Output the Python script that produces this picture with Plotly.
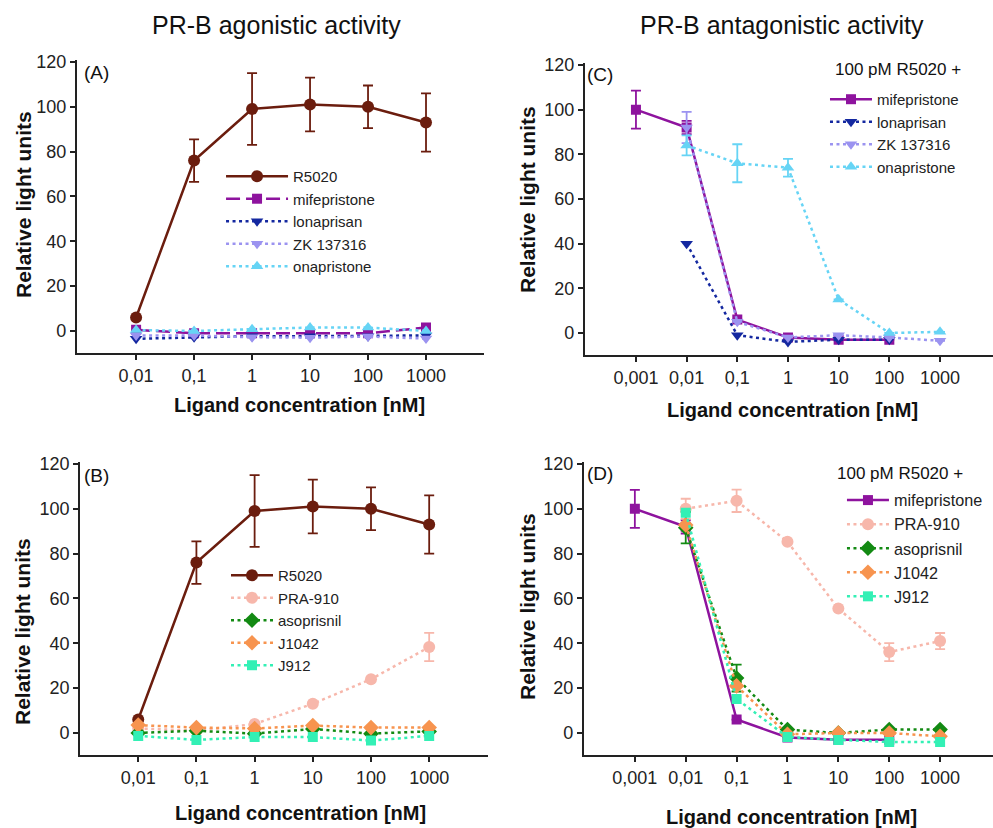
import plotly.graph_objects as go

# ---------------- data ----------------
conc_ag = [0.01, 0.1, 1, 10, 100, 1000]
conc_ant = [0.001, 0.01, 0.1, 1, 10, 100, 1000]
ticks_ag = [0.01, 0.1, 1, 10, 100, 1000]
ticklabels_ag = ["0,01", "0,1", "1", "10", "100", "1000"]
ticks_ant = [0.001, 0.01, 0.1, 1, 10, 100, 1000]
ticklabels_ant = ["0,001", "0,01", "0,1", "1", "10", "100", "1000"]
y_ticks = [0, 20, 40, 60, 80, 100, 120]

# Panel A (agonistic)
A_r5020 = [6, 76, 99, 101, 100, 93]
A_r5020_err = [None, 9.5, 16, 12, 9.5, 13]
A_mife = [0.5, -1, -1, -1, -1, 1.5]
A_lona = [-3.5, -2.8, -2.3, -2.3, -2.3, -2]
A_zk = [-2, -2, -2.8, -3, -2.5, -3.4]
A_ona = [0.4, 0, 0.8, 1.5, 1.5, 0]

# Panel B (agonistic)
B_r5020 = [6, 76, 99, 101, 100, 93]
B_r5020_err = [None, 9.5, 16, 12, 9.5, 13]
B_pra = [2, 1, 4, 13, 24, 38.3]
B_pra_err = [None, None, None, None, None, 6.3]
B_aso = [0, 1, -0.3, 1.8, -0.3, 0.7]
B_j1042 = [3.5, 2.4, 2, 3.3, 2.4, 2.4]
B_j912 = [-1.3, -3.1, -1.8, -1.8, -3.4, -1.3]

# Panel C (antagonistic, 100 pM R5020 +)
C_mife = [100, 92, 6, -2, -3, -3, None]
C_mife_err = [8.5, 3, None, None, None, None, None]
C_lona = [None, 40, -1, -4, -3, -3, None]
C_zk = [None, 92, 5, -2, -1, -2, -3.5]
C_zk_err = [None, 7, None, None, None, None, None]
C_ona = [None, 84, 76, 74, 15, 0, 0.5]
C_ona_err = [None, 4.5, 8.5, 4, None, None, None]

# Panel D (antagonistic, 100 pM R5020 +)
D_mife = [100, 92, 6, -2, -3, -3, None]
D_mife_err = [8.5, 3, None, None, None, None, None]
D_pra = [None, 100, 103.6, 85.3, 55.5, 36.1, 41]
D_pra_err = [None, 4.5, 5, None, None, 4, 3.6]
D_aso = [None, 91.6, 24.5, 1.5, 0, 1.5, 1.5]
D_aso_err = [None, 7, 6, None, None, None, None]
D_j1042 = [None, 92.8, 21, -0.6, 0, 0, -1.5]
D_j912 = [None, 98.3, 15.2, -1.8, -3.1, -4, -4]

# ---------------- styles ----------------
C_R5020 = "#6B1D0E"
C_MIFE = "#8E139E"
C_LONA = "#1428A0"
C_ZK = "#9B93F0"
C_ONA = "#66D4F5"
C_PRA = "#F7B7AB"
C_ASO = "#138A13"
C_J1042 = "#F7944F"
C_J912 = "#33F0B5"

FONT = "Liberation Sans, Arial, sans-serif"
AX = "#222222"

fig = go.Figure()


def add(x, y, name, color, symbol, size, dash, width, xa, ya, legend, err=None):
    kw = {}
    if err is not None:
        kw["error_y"] = dict(type="data", array=err, symmetric=True, color=color,
                             thickness=1.8, width=5, visible=True)
    fig.add_trace(go.Scatter(
        x=x, y=y, name=name, mode="lines+markers",
        line=dict(color=color, width=width, dash=dash),
        marker=dict(color=color, symbol=symbol, size=size, line=dict(width=0)),
        xaxis=xa, yaxis=ya, legend=legend, **kw))


SOLID = "solid"
DOT = "3px,3.5px"
DASH = "14px,6px"

# Panel A
add(conc_ag, A_r5020, "R5020", C_R5020, "circle", 12, SOLID, 2.5, "x", "y", "legend", A_r5020_err)
add(conc_ag, A_mife, "mifepristone", C_MIFE, "square", 10, DASH, 2.5, "x", "y", "legend")
add(conc_ag, A_lona, "lonaprisan", C_LONA, "triangle-down", 11, DOT, 2.5, "x", "y", "legend")
add(conc_ag, A_zk, "ZK 137316", C_ZK, "triangle-down", 11, DOT, 2.5, "x", "y", "legend")
add(conc_ag, A_ona, "onapristone", C_ONA, "triangle-up", 11, DOT, 2.5, "x", "y", "legend")

# Panel B
add(conc_ag, B_r5020, "R5020", C_R5020, "circle", 12, SOLID, 2.5, "x2", "y2", "legend2", B_r5020_err)
add(conc_ag, B_pra, "PRA-910", C_PRA, "circle", 12, DOT, 2.5, "x2", "y2", "legend2", B_pra_err)
add(conc_ag, B_aso, "asoprisnil", C_ASO, "diamond", 12, DOT, 2.5, "x2", "y2", "legend2")
add(conc_ag, B_j1042, "J1042", C_J1042, "diamond", 12, DOT, 2.5, "x2", "y2", "legend2")
add(conc_ag, B_j912, "J912", C_J912, "square", 10, DOT, 2.5, "x2", "y2", "legend2")

# Panel C
add(conc_ant, C_mife, "mifepristone", C_MIFE, "square", 10, SOLID, 2.5, "x3", "y3", "legend3", C_mife_err)
add(conc_ant, C_lona, "lonaprisan", C_LONA, "triangle-down", 11, DOT, 2.5, "x3", "y3", "legend3")
add(conc_ant, C_zk, "ZK 137316", C_ZK, "triangle-down", 11, DOT, 2.5, "x3", "y3", "legend3", C_zk_err)
add(conc_ant, C_ona, "onapristone", C_ONA, "triangle-up", 11, DOT, 2.5, "x3", "y3", "legend3", C_ona_err)

# Panel D
add(conc_ant, D_mife, "mifepristone", C_MIFE, "square", 10, SOLID, 2.5, "x4", "y4", "legend4", D_mife_err)
add(conc_ant, D_pra, "PRA-910", C_PRA, "circle", 12, DOT, 2.5, "x4", "y4", "legend4", D_pra_err)
add(conc_ant, D_aso, "asoprisnil", C_ASO, "diamond", 12, DOT, 2.5, "x4", "y4", "legend4", D_aso_err)
add(conc_ant, D_j1042, "J1042", C_J1042, "diamond", 12, DOT, 2.5, "x4", "y4", "legend4")
add(conc_ant, D_j912, "J912", C_J912, "square", 10, DOT, 2.5, "x4", "y4", "legend4")


def xax(domain, rng, anchor, tv, tt):
    return dict(type="log", domain=domain, range=rng, anchor=anchor,
                tickvals=tv, ticktext=tt, showline=True, linecolor=AX, linewidth=2,
                ticks="outside", ticklen=5, tickwidth=1.5, tickcolor=AX,
                showgrid=False, zeroline=False, automargin=False,
                tickfont=dict(size=18, color=AX, family=FONT))


def yax(domain, anchor):
    return dict(domain=domain, range=[-10, 121], anchor=anchor,
                tickvals=y_ticks, showline=True, linecolor=AX, linewidth=2,
                ticks="outside", ticklen=5, tickwidth=1.5, tickcolor=AX,
                showgrid=False, zeroline=False, automargin=False,
                tickfont=dict(size=18, color=AX, family=FONT))


def leg(x, y, width, size=15):
    return dict(x=x, y=y, xanchor="left", yanchor="top", bgcolor="rgba(0,0,0,0)",
                borderwidth=0, itemwidth=width, traceorder="normal",
                font=dict(size=size, color=AX, family=FONT))


ann = []


def text(x, y, s, size, bold=False, angle=0, xanchor="center"):
    ann.append(dict(x=x / 993, y=1 - y / 828, xref="paper", yref="paper",
                    text=("<b>%s</b>" % s) if bold else s, showarrow=False,
                    textangle=angle, xanchor=xanchor, yanchor="middle",
                    font=dict(size=size, color="#111111", family=FONT)))


text(276, 25, "PR-B agonistic activity", 25)
text(782, 25, "PR-B antagonistic activity", 25)
text(82, 73, "(A)", 19, xanchor="left")
text(585, 75, "(C)", 19, xanchor="left")
text(82, 475, "(B)", 19, xanchor="left")
text(585, 473, "(D)", 19, xanchor="left")
text(299, 405, "Ligand concentration [nM]", 20, bold=True)
text(300, 813, "Ligand concentration [nM]", 20, bold=True)
text(792, 410, "Ligand concentration [nM]", 20, bold=True)
text(791, 817, "Ligand concentration [nM]", 20, bold=True)
text(23, 205, "Relative light units", 21, bold=True, angle=-90)
text(22, 632, "Relative light units", 21, bold=True, angle=-90)
text(528, 200, "Relative light units", 21, bold=True, angle=-90)
text(527, 607, "Relative light units", 21, bold=True, angle=-90)
text(898, 69, "100 pM R5020 +", 17)
text(900, 473, "100 pM R5020 +", 17)

fig.update_layout(
    width=993, height=828, autosize=False,
    margin=dict(l=0, r=0, t=0, b=0, pad=0, autoexpand=False),
    paper_bgcolor="white", plot_bgcolor="white",
    font=dict(family=FONT, color=AX),
    showlegend=True,
    xaxis=xax([0.0775, 0.4874], [-3.02, 4.0], "y", ticks_ag, ticklabels_ag),
    yaxis=yax([0.5732, 0.9279], "x"),
    xaxis2=xax([0.0806, 0.4914], [-3.0, 4.01], "y2", ticks_ag, ticklabels_ag),
    yaxis2=yax([0.0877, 0.4424], "x2"),
    xaxis3=xax([0.5891, 1.0], [-4.006, 4.046], "y3", ticks_ant, ticklabels_ant),
    yaxis3=yax([0.5709, 0.9242], "x3"),
    xaxis4=xax([0.5881, 1.0], [-4.0, 4.04], "y4", ticks_ant, ticklabels_ant),
    yaxis4=yax([0.0877, 0.4423], "x4"),
    legend=leg(0.2226, 0.8068, 62),
    legend2=leg(0.2276, 0.3249, 42),
    legend3=leg(0.8308, 0.8998, 42),
    legend4=leg(0.8479, 0.4166, 42, 16.2),
    annotations=ann,
)

fig.write_html(
    "out.html",
    config={"displayModeBar": False},
    post_script="document.body.style.margin='0px';document.body.style.overflow='hidden';",
)
